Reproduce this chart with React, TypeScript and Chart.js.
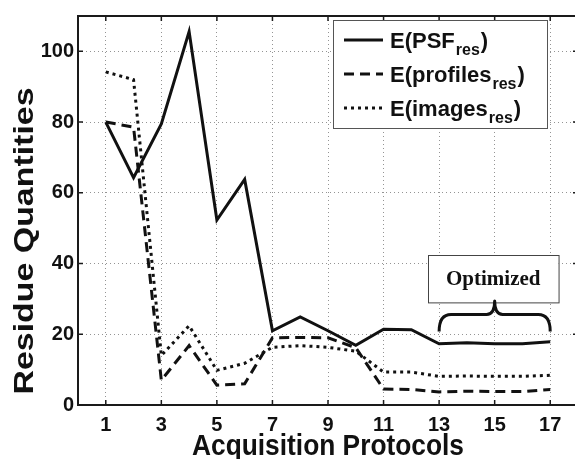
import React, { useEffect, useRef } from "react";
import { Chart, registerables } from "chart.js";

Chart.register(...registerables);

// ---- data ----
const protocols = [1, 2, 3, 4, 5, 6, 7, 8, 9, 10, 11, 12, 13, 14, 15, 16, 17];
const psfRes = [80, 64.3, 79.5, 105.6, 52.3, 63.8, 21, 24.9, 21, 16.9, 21.4, 21.3, 17.3, 17.6, 17.3, 17.3, 17.9];
const profilesRes = [80, 78.6, 7, 16.8, 5.6, 6, 19, 19.1, 19, 16.2, 4.5, 4.4, 3.7, 3.9, 3.8, 3.8, 4.4];
const imagesRes = [94.2, 92, 14, 22.4, 9.8, 11.8, 16.3, 16.8, 16.3, 15.2, 9.3, 9.3, 8.1, 8.2, 8.1, 8.1, 8.4];

const xTicks = [1, 3, 5, 7, 9, 11, 13, 15, 17];
const yTicks = [0, 20, 40, 60, 80, 100];

const legendMain = ["PSF", "profiles", "images"];
const legendSub = "res";
const xTitle = "Acquisition Protocols";
const yTitle = "Residue Quantities";
const noteText = "Optimized";
const optimizedFrom = 13;
const optimizedTo = 17;

const SANS = "'Liberation Sans', Arial, Helvetica, sans-serif";
const SERIF = "'Liberation Serif', 'Times New Roman', serif";
const INK = "#111";

const dashes: number[][] = [[], [10, 6], [3, 4]];

const decor = {
  id: "decor",
  afterDraw(chart: any) {
    const { ctx, chartArea: a, scales } = chart;
    const x = scales.x;
    const y = scales.y;
    ctx.save();

    // frame
    ctx.setLineDash([]);
    ctx.strokeStyle = "#1a1a1a";
    ctx.lineWidth = 2;
    ctx.beginPath();
    ctx.moveTo(a.left, a.top);
    ctx.lineTo(a.right, a.top);
    ctx.lineTo(a.right, a.bottom);
    ctx.lineTo(a.left, a.bottom);
    ctx.closePath();
    ctx.stroke();

    // inward ticks
    ctx.lineWidth = 1.5;
    ctx.beginPath();
    for (const v of xTicks) {
      const px = x.getPixelForValue(v);
      ctx.moveTo(px, a.bottom);
      ctx.lineTo(px, a.bottom - 5);
      ctx.moveTo(px, a.top);
      ctx.lineTo(px, a.top + 5);
    }
    for (const v of yTicks) {
      const py = y.getPixelForValue(v);
      ctx.moveTo(a.left, py);
      ctx.lineTo(a.left + 5, py);
      ctx.moveTo(a.right, py);
      ctx.lineTo(a.right - 5, py);
    }
    ctx.stroke();

    // legend
    const bl = a.left + 255;
    const bt = a.top + 4;
    const bw = 214;
    const bh = 108;
    ctx.fillStyle = "#fff";
    ctx.fillRect(bl, bt, bw, bh);
    ctx.strokeStyle = "#555";
    ctx.lineWidth = 1;
    ctx.strokeRect(bl + 0.5, bt + 0.5, bw, bh);
    ctx.fillStyle = INK;
    ctx.textBaseline = "alphabetic";
    ctx.textAlign = "left";
    legendMain.forEach((m, i) => {
      const base = bt + 28 + i * 34;
      ctx.strokeStyle = INK;
      ctx.lineWidth = 3;
      ctx.setLineDash(dashes[i]);
      ctx.beginPath();
      ctx.moveTo(bl + 11, base - 8);
      ctx.lineTo(bl + 50, base - 8);
      ctx.stroke();
      ctx.setLineDash([]);
      let tx = bl + 57;
      ctx.font = `bold 22px ${SANS}`;
      const s1 = "E(" + m;
      ctx.fillText(s1, tx, base);
      tx += ctx.measureText(s1).width + 1;
      ctx.font = `bold 16px ${SANS}`;
      ctx.fillText(legendSub, tx, base + 7);
      tx += ctx.measureText(legendSub).width + 1;
      ctx.font = `bold 22px ${SANS}`;
      ctx.fillText(")", tx, base);
    });

    // Optimized box
    const ox0 = x.getPixelForValue(12.6);
    const ox1 = x.getPixelForValue(17.3);
    const oy0 = y.getPixelForValue(42.5);
    const oy1 = y.getPixelForValue(29.1);
    ctx.fillStyle = "#fff";
    ctx.fillRect(ox0, oy0, ox1 - ox0, oy1 - oy0);
    ctx.strokeStyle = "#444";
    ctx.lineWidth = 1;
    ctx.strokeRect(Math.round(ox0) + 0.5, Math.round(oy0) + 0.5, ox1 - ox0, oy1 - oy0);
    ctx.fillStyle = INK;
    ctx.font = `bold 21px ${SERIF}`;
    ctx.textAlign = "center";
    ctx.fillText(noteText, (ox0 + ox1) / 2, (oy0 + oy1) / 2 + 7);

    // brace
    const x0 = x.getPixelForValue(optimizedFrom);
    const x1 = x.getPixelForValue(optimizedTo);
    const xm = (x0 + x1) / 2;
    const yLow = y.getPixelForValue(20.8);
    const yMid = y.getPixelForValue(25.6);
    const yTip = y.getPixelForValue(29.4);
    const r = 12;
    ctx.strokeStyle = INK;
    ctx.lineWidth = 3;
    ctx.lineJoin = "round";
    ctx.beginPath();
    ctx.moveTo(x0, yLow);
    ctx.quadraticCurveTo(x0, yMid, x0 + r, yMid);
    ctx.lineTo(xm - 8, yMid);
    ctx.quadraticCurveTo(xm, yMid, xm, yTip);
    ctx.quadraticCurveTo(xm, yMid, xm + 8, yMid);
    ctx.lineTo(x1 - r, yMid);
    ctx.quadraticCurveTo(x1, yMid, x1, yLow);
    ctx.stroke();

    // axis titles
    ctx.fillStyle = INK;
    ctx.textAlign = "center";
    ctx.textBaseline = "alphabetic";
    ctx.font = `bold 30px ${SANS}`;
    const wx = ctx.measureText(xTitle).width;
    ctx.save();
    ctx.translate((a.left + a.right) / 2, 455);
    ctx.scale(272 / wx, 1);
    ctx.fillText(xTitle, 0, 0);
    ctx.restore();

    ctx.font = `bold 27px ${SANS}`;
    const wy = ctx.measureText(yTitle).width;
    ctx.save();
    ctx.translate(33, 241);
    ctx.rotate(-Math.PI / 2);
    ctx.scale(307 / wy, 1);
    ctx.fillText(yTitle, 0, 0);
    ctx.restore();

    ctx.restore();
  },
};

export default function App() {
  const ref = useRef<HTMLCanvasElement | null>(null);

  useEffect(() => {
    if (!ref.current) return;
    const mk = (vals: number[]) => protocols.map((p, i) => ({ x: p, y: vals[i] }));
    const series = [psfRes, profilesRes, imagesRes];
    const chart = new Chart(ref.current, {
      type: "line",
      data: {
        datasets: series.map((s, i) => ({
          label: "E(" + legendMain[i] + "_" + legendSub + ")",
          data: mk(s),
          borderColor: INK,
          borderWidth: 3,
          borderDash: dashes[i],
          pointRadius: 0,
          tension: 0,
          fill: false,
        })),
      },
      options: {
        animation: false,
        responsive: false,
        devicePixelRatio: 1,
        layout: { padding: { top: 11, right: 2, left: 0, bottom: 0 } },
        plugins: { legend: { display: false }, tooltip: { enabled: false } },
        scales: {
          x: {
            type: "linear",
            min: 0,
            max: 18,
            afterBuildTicks: (s: any) => {
              s.ticks = xTicks.map((v) => ({ value: v }));
            },
            afterFit: (s: any) => {
              s.height = 54;
            },
            grid: { color: "rgba(0,0,0,0.42)", lineWidth: 1, drawTicks: false },
            border: { display: false, dash: [1, 3] },
            ticks: {
              color: INK,
              padding: 8,
              font: { family: SANS, size: 20, weight: "bold" },
              maxRotation: 0,
              autoSkip: false,
            },
          },
          y: {
            type: "linear",
            min: 0,
            max: 110,
            afterBuildTicks: (s: any) => {
              s.ticks = yTicks.map((v) => ({ value: v }));
            },
            afterFit: (s: any) => {
              s.width = 78;
            },
            grid: { color: "rgba(0,0,0,0.42)", lineWidth: 1, drawTicks: false },
            border: { display: false, dash: [1, 3] },
            ticks: {
              color: INK,
              padding: 4,
              font: { family: SANS, size: 20, weight: "bold" },
              autoSkip: false,
            },
          },
        },
      },
      plugins: [decor],
    } as any);
    return () => chart.destroy();
  }, []);

  return (
    <div
      style={{
        position: "fixed",
        left: 0,
        top: 0,
        width: 575,
        height: 459,
        overflow: "hidden",
        background: "#fff",
      }}
    >
      <canvas ref={ref} width={580} height={459} style={{ width: 580, height: 459, display: "block" }} />
    </div>
  );
}
